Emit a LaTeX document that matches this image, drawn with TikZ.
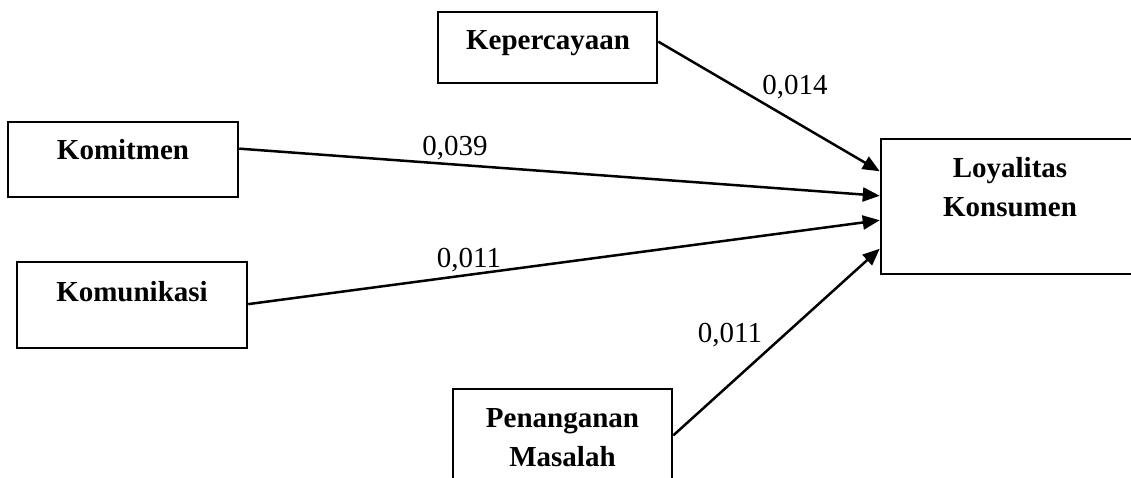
\documentclass[tikz,border=0pt]{standalone}
\usepackage{fontspec}
\setmainfont{Liberation Serif}
\usetikzlibrary{arrows.meta,calc}
\tikzset{
  box/.style={draw, line width=2.5pt, inner sep=0pt},
  lbl/.style={font=\bfseries\fontsize{29}{39}\selectfont, anchor=base, align=center, inner sep=0pt},
  num/.style={font=\fontsize{29}{34}\selectfont, anchor=base, inner sep=0pt},
  conn/.style={line width=2.5pt, -{Triangle[length=17pt,width=14pt]}}
}
\begin{document}
\begin{tikzpicture}[x=1pt,y=-1pt]
\useasboundingbox (0,0) rectangle (1131,478);
\clip (0,0) rectangle (1131,478);
% boxes
\node[box, minimum width=230pt, minimum height=75pt] (komb) at (123,159.5) {};
\node[box, minimum width=230pt, minimum height=86pt] (kunb) at (132,305) {};
\node[box, minimum width=219pt, minimum height=71pt] (kepb) at (547.5,47.5) {};
\node[box, minimum width=219pt, minimum height=111pt] (penb) at (562.5,444.5) {};
\node[box, minimum width=259pt, minimum height=135pt] (loyb) at (1010.5,206.5) {};
% texts
\node[lbl] (komt) at (123,160) {Komitmen};
\node[lbl] (kunt) at (132,301) {Komunikasi};
\node[lbl] (kept) at (548,50) {Kepercayaan};
\node[lbl] (pent) at (562.5,466) {Penanganan\\Masalah};
\node[lbl] (loyt) at (1010,217) {Loyalitas\\Konsumen};
% connectors
\draw[conn] ($(kepb.north east)!0.42!(kepb.south east)$) -- ($(loyb.north west)!0.244!(loyb.south west)$);
\draw[conn] ($(komb.north east)!0.36!(komb.south east)$) -- ($(loyb.north west)!0.422!(loyb.south west)$);
\draw[conn] ($(kunb.north east)!0.49!(kunb.south east)$) -- ($(loyb.north west)!0.6!(loyb.south west)$);
\draw[conn] ($(penb.north east)!0.42!(penb.south east)$) -- ($(loyb.north west)!0.807!(loyb.south west)$);
% labels
\node[num] (n1) at (795,95) {0,014};
\node[num] (n2) at (455,156) {0,039};
\node[num] (n3) at (469,267) {0,011};
\node[num] (n4) at (730,342) {0,011};
\end{tikzpicture}
\end{document}
